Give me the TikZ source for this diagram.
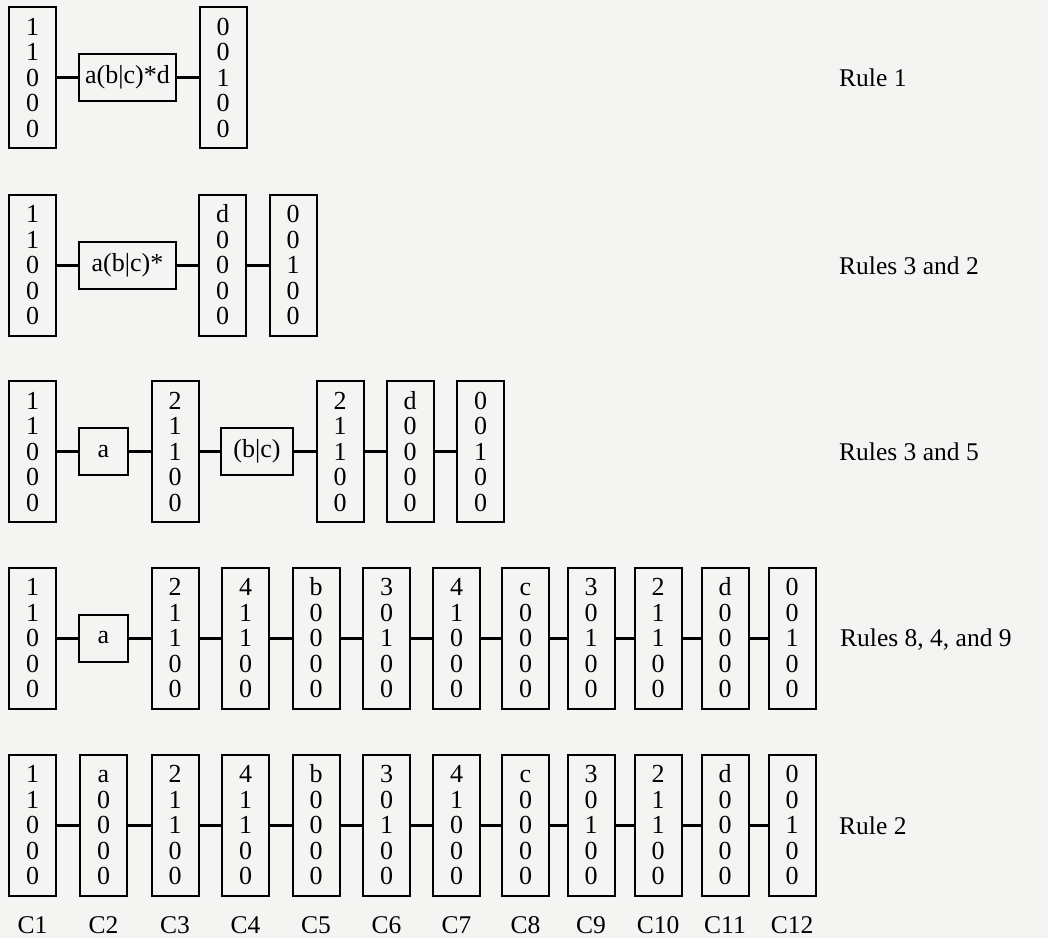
\documentclass[tikz,border=0pt]{standalone}
\usepackage{fontspec}
\setmainfont{Liberation Serif}
\newcommand\cst[5]{\vphantom{0}#1\\#2\\#3\\#4\\#5}
\begin{document}
\begin{tikzpicture}[x=1pt,y=-1pt,
  cellbox/.style={draw, line width=2pt, minimum width=47pt, minimum height=141pt, inner sep=0pt, align=center, font=\fontsize{26}{25.5}\selectfont},
  rulebox/.style={draw, line width=2pt, minimum height=47pt, inner sep=0pt, align=center, font=\fontsize{26}{25.5}\selectfont},
  link/.style={line width=3pt},
  lbl/.style={font=\fontsize{25.5}{26}\selectfont, inner sep=0pt}]
\fill[fill={rgb,255:red,244;green,244;blue,242}] (0,0) rectangle (1048,938);
\useasboundingbox (0,0) rectangle (1048,938);
% Row 1
\node[cellbox] (a1) at (32.5,77.5) {\cst11000};
\node[rulebox, minimum width=97pt] (a2) at (127.5,77.5) {a(b\textbar c)*d};
\node[cellbox] (a3) at (223,77.5) {\cst00100};
\draw[link] (a1.east) -- (a2.west);
\draw[link] (a2.east) -- (a3.west);
\node[lbl, anchor=west] (ra) at (839,78) {Rule 1};
% Row 2
\node[cellbox] (b1) at (32.5,265) {\cst11000};
\node[rulebox, minimum width=97pt] (b2) at (127.5,265) {a(b\textbar c)*};
\node[cellbox] (b3) at (222.5,265) {\cst d0000};
\node[cellbox] (b4) at (293,265) {\cst00100};
\draw[link] (b1.east) -- (b2.west);
\draw[link] (b2.east) -- (b3.west);
\draw[link] (b3.east) -- (b4.west);
\node[lbl, anchor=west] (rb) at (839,266) {Rules 3 and 2};
% Row 3
\node[cellbox] (c1) at (32.5,451.5) {\cst11000};
\node[rulebox, minimum width=49pt] (c2) at (103.5,451.5) {a};
\node[cellbox] (c3) at (175,451.5) {\cst21100};
\node[rulebox, minimum width=72pt] (c4) at (257,451.5) {(b\textbar c)};
\node[cellbox] (c5) at (340,451.5) {\cst21100};
\node[cellbox] (c6) at (410,451.5) {\cst d0000};
\node[cellbox] (c7) at (480.5,451.5) {\cst00100};
\foreach \p/\q in {c1/c2,c2/c3,c3/c4,c4/c5,c5/c6,c6/c7}{\draw[link] (\p.east) -- (\q.west);}
\node[lbl, anchor=west] (rc) at (839,452) {Rules 3 and 5};
% Row 4
\node[cellbox] (d1) at (32.5,638) {\cst11000};
\node[rulebox, minimum width=49pt] (d2) at (103.5,638) {a};
\node[cellbox] (d3) at (175,638) {\cst21100};
\node[cellbox] (d4) at (245.5,638) {\cst41100};
\node[cellbox] (d5) at (316,638) {\cst b0000};
\node[cellbox] (d6) at (386.5,638) {\cst30100};
\node[cellbox] (d7) at (456.5,638) {\cst41000};
\node[cellbox] (d8) at (525.5,638) {\cst c0000};
\node[cellbox] (d9) at (591,638) {\cst30100};
\node[cellbox] (d10) at (658,638) {\cst21100};
\node[cellbox] (d11) at (725,638) {\cst d0000};
\node[cellbox] (d12) at (792,638) {\cst00100};
\foreach \i [evaluate=\i as \j using int(\i+1)] in {1,...,11}{\draw[link] (d\i.east) -- (d\j.west);}
\node[lbl, anchor=west] (rd) at (840,640) {Rules 8, 4, and 9};
% Row 5
\node[cellbox] (e1) at (32.5,825) {\cst11000};
\node[cellbox] (e2) at (103.5,825) {\cst a0000};
\node[cellbox] (e3) at (175,825) {\cst21100};
\node[cellbox] (e4) at (245.5,825) {\cst41100};
\node[cellbox] (e5) at (316,825) {\cst b0000};
\node[cellbox] (e6) at (386.5,825) {\cst30100};
\node[cellbox] (e7) at (456.5,825) {\cst41000};
\node[cellbox] (e8) at (525.5,825) {\cst c0000};
\node[cellbox] (e9) at (591,825) {\cst30100};
\node[cellbox] (e10) at (658,825) {\cst21100};
\node[cellbox] (e11) at (725,825) {\cst d0000};
\node[cellbox] (e12) at (792,825) {\cst00100};
\foreach \i [evaluate=\i as \j using int(\i+1)] in {1,...,11}{\draw[link] (e\i.east) -- (e\j.west);}
\node[lbl, anchor=west] (re) at (839,826) {Rule 2};
% Column labels
\foreach \i in {1,...,12}{\node[lbl] (l\i) at ([yshift=-29pt]e\i.south) {C\i};}
\end{tikzpicture}
\end{document}
